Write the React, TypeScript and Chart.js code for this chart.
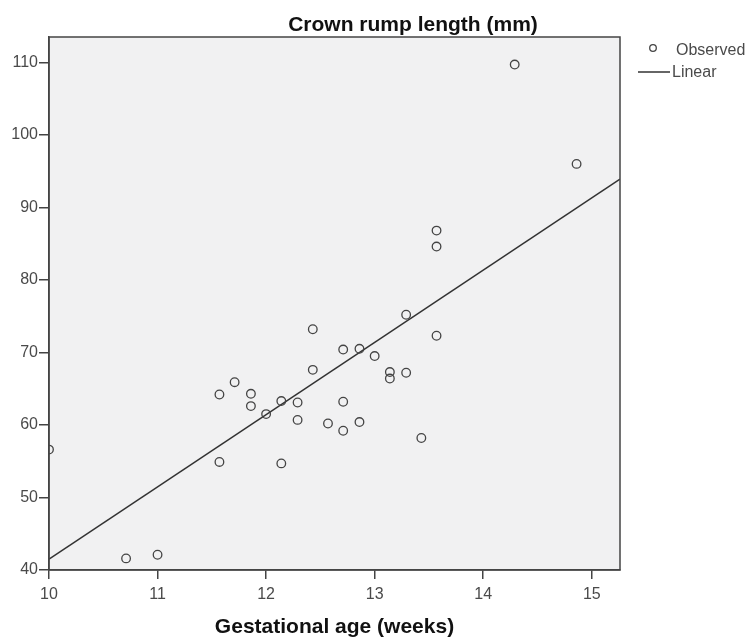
import React, { useEffect, useRef } from "react";
import { Chart, registerables } from "chart.js";

Chart.register(...registerables);

// ---- Data ----
const gestationalWeeks = [
  14.29, 14.86, 12.43, 12.71, 12.86, 13.0, 12.43, 11.71, 11.57, 11.86, 11.86,
  12.14, 12.29, 12.71, 12.0, 12.29, 12.57, 12.71, 12.86, 10.0, 11.57, 12.14,
  10.71, 11.0, 13.57, 13.57, 13.29, 13.57, 13.14, 13.14, 13.29, 13.43,
];
const crownRumpLength = [
  109.7, 96.0, 73.2, 70.4, 70.5, 69.5, 67.6, 65.9, 64.2, 64.3, 62.6,
  63.3, 63.1, 63.2, 61.5, 60.7, 60.2, 59.2, 60.4, 56.6, 54.9, 54.7,
  41.6, 42.1, 86.8, 84.6, 75.2, 72.3, 67.3, 66.4, 67.2, 58.2,
];
const linearFitX = [10, 15.26];
const linearFitY = [41.5, 93.9];
const xTicks = [10, 11, 12, 13, 14, 15];
const yTicks = [40, 50, 60, 70, 80, 90, 100, 110];
const chartTitle = "Crown rump length (mm)";
const xAxisTitle = "Gestational age (weeks)";
const legendLabels = ["Observed", "Linear"];

const FONT = "'Liberation Sans', Arial, sans-serif";
const AXIS = "#444";
const TEXT = "#4a4a4a";

const decorPlugin = {
  id: "decor",
  beforeDraw(chart: any) {
    const { ctx, chartArea: a } = chart;
    ctx.save();
    ctx.fillStyle = "#ffffff";
    ctx.fillRect(0, 0, chart.width, chart.height);
    ctx.fillStyle = "#f1f1f2";
    ctx.fillRect(a.left, a.top, a.right - a.left, a.bottom - a.top);
    ctx.restore();
  },
  afterDraw(chart: any) {
    const { ctx, chartArea: a } = chart;
    ctx.save();
    ctx.strokeStyle = AXIS;
    ctx.lineWidth = 1.5;
    ctx.strokeRect(a.left, a.top, a.right - a.left, a.bottom - a.top);

    // title
    ctx.fillStyle = "#111";
    ctx.font = `bold 21px ${FONT}`;
    ctx.textAlign = "center";
    ctx.textBaseline = "alphabetic";
    ctx.fillText(chartTitle, 413, 31);

    // x axis title
    ctx.fillText(xAxisTitle, (a.left + a.right) / 2, 633);

    // legend
    ctx.font = `16px ${FONT}`;
    ctx.textAlign = "left";
    ctx.textBaseline = "middle";
    ctx.fillStyle = TEXT;
    ctx.lineWidth = 1.3;
    ctx.strokeStyle = "#444";
    ctx.beginPath();
    ctx.arc(653, 48, 3.3, 0, Math.PI * 2);
    ctx.stroke();
    ctx.fillText(legendLabels[0], 676, 51);
    ctx.lineWidth = 1.5;
    ctx.strokeStyle = "#333";
    ctx.beginPath();
    ctx.moveTo(638, 72);
    ctx.lineTo(670, 72);
    ctx.stroke();
    ctx.fillText(legendLabels[1], 672, 73);
    ctx.restore();
  },
};

export default function App() {
  const ref = useRef<HTMLCanvasElement | null>(null);

  useEffect(() => {
    document.body.style.margin = "0";
    const canvas = ref.current;
    if (!canvas) return;
    const chart = new Chart(canvas, {
      type: "scatter",
      data: {
        datasets: [
          {
            type: "scatter",
            label: legendLabels[0],
            data: gestationalWeeks.map((x, i) => ({ x, y: crownRumpLength[i] })),
            pointRadius: 4.3,
            pointBorderWidth: 1.3,
            pointBorderColor: "#444",
            pointBackgroundColor: "rgba(0,0,0,0)",
            clip: 0,
          } as any,
          {
            type: "line",
            label: legendLabels[1],
            data: linearFitX.map((x, i) => ({ x, y: linearFitY[i] })),
            borderColor: "#333",
            borderWidth: 1.6,
            pointRadius: 0,
            fill: false,
            clip: 0,
          } as any,
        ],
      },
      options: {
        animation: false,
        responsive: false,
        devicePixelRatio: 1,
        layout: { padding: { top: 37, right: 129, left: 0, bottom: 0 } },
        plugins: {
          legend: { display: false },
          title: { display: false },
          tooltip: { enabled: false },
        },
        scales: {
          x: {
            type: "linear",
            min: 10,
            max: 15.26,
            afterBuildTicks: (s: any) => {
              s.ticks = xTicks.map((v) => ({ value: v }));
            },
            afterFit: (s: any) => {
              s.height = 68;
            },
            ticks: {
              color: TEXT,
              font: { family: FONT, size: 16 },
              padding: 6,
              maxRotation: 0,
              autoSkip: false,
              callback: (v: any) => String(v),
            },
            grid: {
              drawOnChartArea: false,
              drawTicks: true,
              tickLength: 9,
              color: AXIS,
              lineWidth: 1.5,
            },
            border: { display: true, color: AXIS, width: 1.5 },
          },
          y: {
            type: "linear",
            min: 40,
            max: 113.5,
            afterBuildTicks: (s: any) => {
              s.ticks = yTicks.map((v) => ({ value: v }));
            },
            afterFit: (s: any) => {
              s.width = 49;
            },
            ticks: {
              color: TEXT,
              font: { family: FONT, size: 16 },
              padding: 1,
              autoSkip: false,
              callback: (v: any) => String(v),
            },
            grid: {
              drawOnChartArea: false,
              drawTicks: true,
              tickLength: 10,
              color: AXIS,
              lineWidth: 1.5,
            },
            border: { display: true, color: AXIS, width: 1.5 },
          },
        },
      },
      plugins: [decorPlugin],
    });
    return () => chart.destroy();
  }, []);

  return (
    <div style={{ width: 749, height: 638 }}>
      <canvas ref={ref} width={749} height={638} style={{ display: "block", width: 749, height: 638 }} />
    </div>
  );
}
